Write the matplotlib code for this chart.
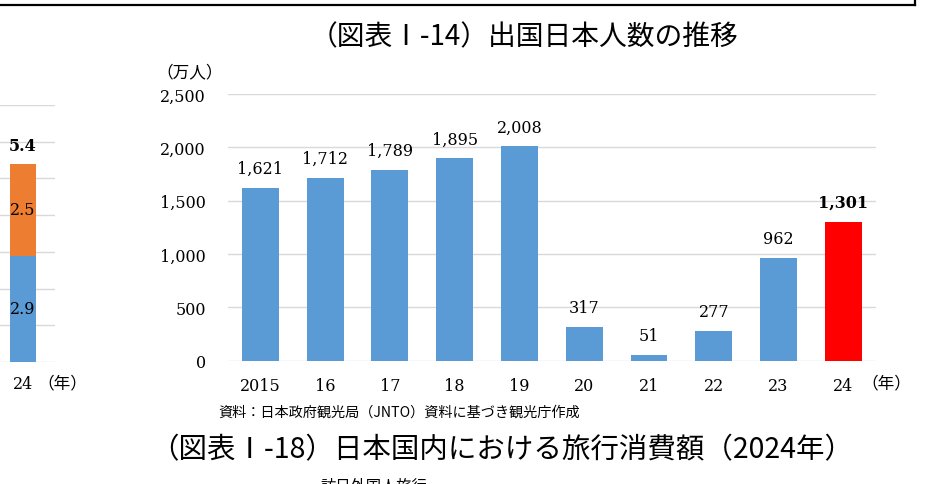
import matplotlib
matplotlib.use("Agg")
import matplotlib.pyplot as plt
from matplotlib.lines import Line2D

years = ["2015", "16", "17", "18", "19", "20", "21", "22", "23", "24"]
departures = [1621, 1712, 1789, 1895, 2008, 317, 51, 277, 962, 1301]
bar_colors = ["#5B9BD5"] * 9 + ["#FF0000"]
yticks = [0, 500, 1000, 1500, 2000, 2500]

left_blue = 2.9
left_orange = 2.5
left_total = 5.4

title_main = "（図表Ⅰ-14）出国日本人数の推移"
title_next = "（図表Ⅰ-18）日本国内における旅行消費額（2024年）"
source_text = "資料：日本政府観光局（JNTO）資料に基づき観光庁作成"
cut_text = "訪日外国人旅行"

JP = ["Noto Sans CJK JP", "DejaVu Sans"]
NUM = "DejaVu Serif"
W, H = 930, 485

fig = plt.figure(figsize=(9.3, 4.85), dpi=100)

def fx(px):
    return px / W

def fy(py):
    return 1 - py / H

# ---- main chart ----
ax = fig.add_axes([fx(228), fy(361.5), fx(875.7) - fx(228), fy(95) - fy(361.5)])
x = list(range(len(years)))
bars = ax.bar(x, departures, width=0.57, color=bar_colors, zorder=3)
ax.set_xlim(-0.5, len(years) - 0.5)
ax.set_ylim(0, 2500)
ax.set_yticks(yticks)
ax.set_yticklabels([f"{v:,}" for v in yticks], fontfamily=NUM, fontsize=11.5)
ax.set_xticks(x)
ax.set_xticklabels(years, fontfamily=NUM, fontsize=11.5)
ax.tick_params(axis="x", length=0, pad=12)
ax.tick_params(axis="y", length=0, pad=16)
ax.grid(axis="y", color="#D9D9D9", linewidth=1, zorder=0)
for s in ax.spines.values():
    s.set_visible(False)
for i, (b, v) in enumerate(zip(bars, departures)):
    ax.annotate(f"{v:,}", (b.get_x() + b.get_width() / 2, v), xytext=(0, 8),
                textcoords="offset points", ha="center", va="bottom",
                fontfamily=NUM, fontsize=11.5,
                fontweight="bold" if i == len(departures) - 1 else "normal")

fig.text(fx(190), fy(73), "（万人）", fontfamily=JP, fontsize=12, ha="center", va="center")
fig.text(fx(886), fy(384), "（年）", fontfamily=JP, fontsize=12, ha="center", va="center")

# ---- partial left chart ----
axl = fig.add_axes([0, fy(363), fx(55), fy(106) - fy(363)])
axl.bar([0], [left_blue], width=1, color="#5B9BD5", zorder=3)
axl.bar([0], [left_orange], bottom=[left_blue], width=1, color="#ED7D31", zorder=3)
axl.set_xlim(-0.5 - 10 / 26, 0.5 + 19 / 26)
axl.set_ylim(0, 7)
axl.set_yticks(range(8))
axl.set_xticks([])
axl.set_yticklabels([])
axl.tick_params(length=0)
axl.grid(axis="y", color="#D9D9D9", linewidth=1, zorder=0)
for s in axl.spines.values():
    s.set_visible(False)
axl.text(0, left_blue / 2, f"{left_blue}", ha="center", va="center", fontfamily=NUM, fontsize=11.5, zorder=4)
axl.text(0, left_blue + left_orange / 2, f"{left_orange}", ha="center", va="center", fontfamily=NUM, fontsize=11.5, zorder=4)
axl.annotate(f"{left_total}", (0, left_total), xytext=(0, 7), textcoords="offset points",
             ha="center", va="bottom", fontfamily=NUM, fontsize=11.5, fontweight="bold")
fig.text(fx(23), fy(385), "24", fontfamily=NUM, fontsize=11.5, ha="center", va="center")
fig.text(fx(62), fy(384), "（年）", fontfamily=JP, fontsize=12, ha="center", va="center")

# ---- titles and text ----
fig.text(fx(524), fy(37), title_main, fontfamily=JP, fontsize=20, ha="center", va="center")
fig.text(fx(218), fy(413), source_text, fontfamily=JP, fontsize=10.2, ha="left", va="center")
fig.text(fx(502), fy(450), title_next, fontfamily=JP, fontsize=20.5, ha="center", va="center")
fig.text(fx(320), fy(478), cut_text, fontfamily=JP, fontsize=11, ha="left", va="top")

# ---- top frame line ----
fig.add_artist(Line2D([0, fx(915)], [fy(6), fy(6)], color="black", linewidth=1.6, transform=fig.transFigure))
fig.add_artist(Line2D([fx(915), fx(915)], [fy(6), 1.01], color="black", linewidth=1.6, transform=fig.transFigure))

fig.savefig("out.png", dpi=100)
